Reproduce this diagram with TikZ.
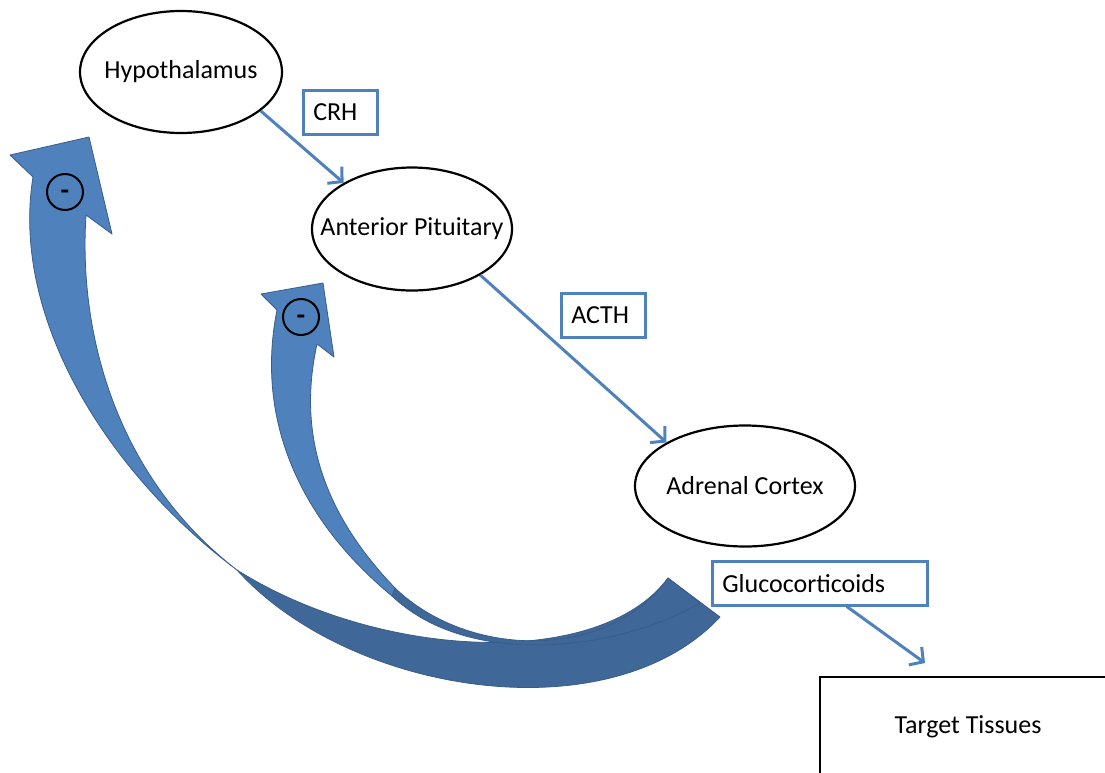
\documentclass[tikz,border=0pt]{standalone}
\usepackage{fontspec}
\setmainfont{Carlito}
\usepackage{xcolor}
\usepackage{tikz}
\usetikzlibrary{shapes.geometric, arrows.meta, positioning, calc}
\definecolor{HPABlue}{HTML}{4F81BD}
\definecolor{HPADark}{HTML}{3F6797}
\definecolor{HPAEdge}{HTML}{385D8A}
\tikzset{
    glandnode/.style={ellipse, draw=black, line width=2.2pt, inner sep=0pt,
        font=\fontsize{26}{31}\selectfont},
    hormonebox/.style={rectangle, anchor=north west, draw=HPABlue, line width=2.5pt,
        inner xsep=10pt, inner ysep=0pt, minimum height=44pt, text width=#1, align=left,
        font=\fontsize{26}{31}\selectfont},
    hormonearrow/.style={-{Straight Barb[length=10pt, width=22pt]}, line width=3pt, HPABlue},
    tissuebox/.style={rectangle, draw=black, line width=2.5pt, minimum width=296pt, minimum height=100pt,
        font=\fontsize{26}{31}\selectfont},
    feedlight/.style={fill=HPABlue, draw=HPAEdge, line width=0.8pt, line join=round},
    feeddark/.style={fill=HPADark, draw=HPAEdge, line width=0.8pt, line join=round},
    minusnode/.style={circle, draw=black, line width=2pt, minimum size=36pt, inner sep=0pt,
        font=\fontsize{28}{31}\selectfont\bfseries},
}

\begin{document}
\begin{tikzpicture}[x=1pt, y=-1pt]
    \useasboundingbox (0,0) rectangle (1105,772);

    % feedback arrows
    \draw[feeddark] (237,570) .. controls (350,695) and (610,735) .. (720,617) -- (668,578)
        .. controls (600,670) and (380,660) .. (237,570) -- cycle;
    \draw[feeddark] (395,588) .. controls (470,660) and (610,660) .. (668,578) -- (700,603)
        .. controls (620,650) and (470,670) .. (392,596) -- cycle;
    \draw[feedlight] (33,177) -- (10,155) -- (89,137) -- (112,234) -- (86,215)
        .. controls (78,340) and (120,480) .. (237,570)
        .. controls (110,475) and (10,320) .. (33,177) -- cycle;
    \draw[feedlight] (277,310) -- (261,294) -- (323,283) -- (334,357) -- (317,344)
        .. controls (298,430) and (320,510) .. (395,588) -- (392,596)
        .. controls (300,520) and (255,420) .. (277,310) -- cycle;
    \node[minusnode] (negtop) at (65,192) {\smash{\raisebox{-7pt}{-}}};
    \node[minusnode] (negpit) at (301,317) {\smash{\raisebox{-7pt}{-}}};

    \node[glandnode, minimum width=202pt, minimum height=122pt] (hypo) at (181,72) {\makebox[0pt]{Hypothalamus}};
    \node[glandnode, minimum width=200pt, minimum height=123pt] (pit) at (412,229) {\makebox[0pt]{Anterior Pituitary}};
    \node[glandnode, minimum width=220pt, minimum height=121pt] (adr) at (745,486) {\makebox[0pt]{Adrenal Cortex}};

    \node[hormonebox=54pt] (crh) at (302,89) {CRH};
    \node[hormonebox=64pt] (acth) at (560,292) {ACTH};
    \node[hormonebox=195pt] (gluco) at (711,560) {Glucocorticoids};
    \node[tissuebox] (tgt) at (968,727) {Target Tissues};
    \coordinate (glutip) at (925,663);

    \draw[hormonearrow] (hypo.-26) -- (pit.146);
    \draw[hormonearrow] (pit.-34) -- (adr.151);
    \draw[hormonearrow] ([xshift=27pt]gluco.south) -- (glutip);
\end{tikzpicture}
\end{document}
